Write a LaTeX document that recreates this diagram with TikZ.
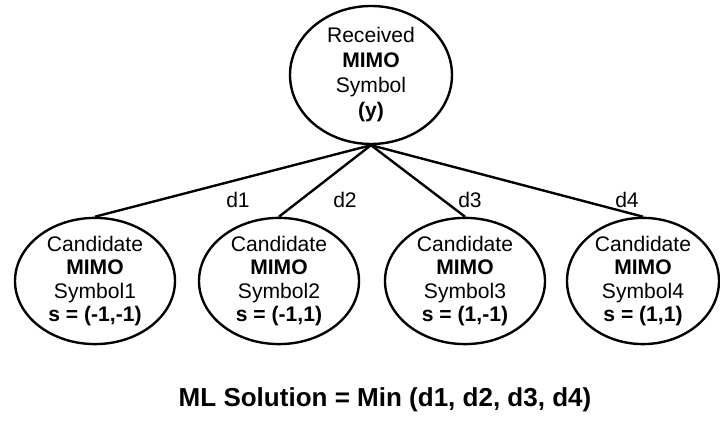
\documentclass[tikz,border=0pt]{standalone}
\usepackage{fontspec}
\setmainfont{Liberation Sans}
\usetikzlibrary{shapes.geometric}

\begin{document}
\begin{tikzpicture}[
    font=\fontsize{15}{16.5}\selectfont,
    sym/.style={draw,ellipse,line width=1.7pt,align=center,inner sep=0pt,minimum width=4cm,minimum height=2.85cm},
    link/.style={line width=1.7pt},
    dist/.style={font=\fontsize{15}{16.5}\selectfont}
  ]
    \useasboundingbox (0,0) rectangle (18,10.775);

    \node[sym,minimum width=4.05cm,minimum height=3.45cm,font=\fontsize{15}{17.8}\selectfont] (rx) at (9.275,8.9)
      {Received\\\textbf{MIMO}\\Symbol\\\textbf{(y)}};

    \node[sym] (cand1) at (2.375,3.75) {Candidate\\\textbf{MIMO}\\Symbol1\\\textbf{s = (-1,-1)}};
    \node[sym] (cand2) at (6.975,3.75) {Candidate\\\textbf{MIMO}\\Symbol2\\\textbf{s = (-1,1)}};
    \node[sym] (cand3) at (11.625,3.75) {Candidate\\\textbf{MIMO}\\Symbol3\\\textbf{s = (1,-1)}};
    \node[sym,minimum width=3.8cm] (cand4) at (16.075,3.75) {Candidate\\\textbf{MIMO}\\Symbol4\\\textbf{s = (1,1)}};

    \draw[link] (rx.south) -- (cand1.north);
    \draw[link] (rx.south) -- (cand2.north);
    \draw[link] (rx.south) -- (cand3.north);
    \draw[link] (rx.south) -- (cand4.north);

    \node[dist] (d1) at (5.95,5.775) {d1};
    \node[dist] (d2) at (8.625,5.775) {d2};
    \node[dist] (d3) at (11.75,5.775) {d3};
    \node[dist] (d4) at (15.675,5.775) {d4};

    \node[font=\bfseries\fontsize{18.5}{20}\selectfont] (ml) at (9.625,0.775) {ML Solution = Min (d1, d2, d3, d4)};
  \end{tikzpicture}
\end{document}
